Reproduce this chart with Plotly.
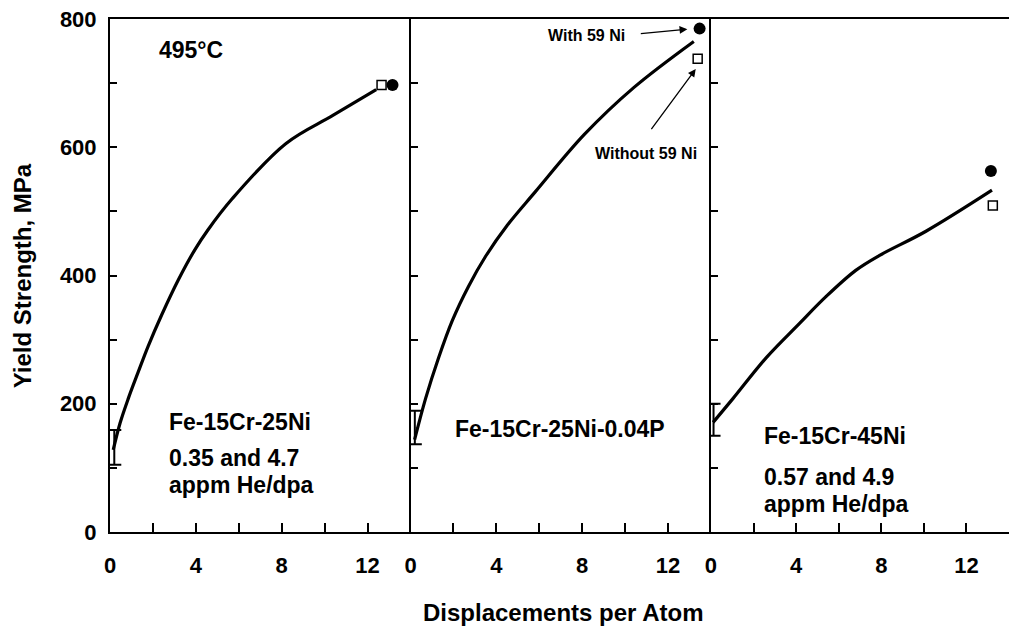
import plotly.graph_objects as go

# ---------------- data ----------------
dpa_p1 = [0.15, 0.47, 0.85, 1.32, 1.78, 2.4, 3.18, 3.95, 4.56, 5.7, 8.2, 10.4, 12.4]
ys_p1 = [128, 170, 208, 250, 290, 338, 393, 440, 471, 520, 606, 650, 690]

dpa_p2 = [0.19, 0.7, 1.3, 1.95, 2.7, 3.5, 4.5, 5.8, 8.1, 10.4, 13.2]
ys_p2 = [144, 208, 271, 330, 383, 430, 478, 530, 620, 693, 765]

dpa_p3 = [0.1, 1.03, 2.6, 4.15, 5.4, 6.8, 7.9, 10.1, 13.2]
ys_p3 = [171, 208, 272, 325, 367, 408, 431, 469, 533]

# unirradiated scatter band (x, low, high) per panel
err_x = [0.2, 0.2, 0.12]
err_lo = [105, 137, 150]
err_hi = [159, 189, 200]

# end points: with 59Ni (filled circle) / without 59Ni (open square)
with_x = [13.16, 13.47, 13.15]
with_y = [697, 785, 563]
without_x = [12.65, 13.38, 13.24]
without_y = [697, 738, 509]

panel_labels = [
    ["Fe-15Cr-25Ni", "0.35 and 4.7", "appm He/dpa"],
    ["Fe-15Cr-25Ni-0.04P"],
    ["Fe-15Cr-45Ni", "0.57 and 4.9", "appm He/dpa"],
]

y_ticks = [0, 100, 200, 300, 400, 500, 600, 700, 800]
y_ticktext = ["0", "", "200", "", "400", "", "600", "", "800"]
x_ticks = [0, 2, 4, 6, 8, 10, 12]
x_ticktext = ["0", "", "4", "", "8", "", "12"]

# ---------------- figure ----------------
FONT = "Liberation Sans, Arial, Helvetica, sans-serif"
fig = go.Figure()

curves = [(dpa_p1, ys_p1), (dpa_p2, ys_p2), (dpa_p3, ys_p3)]
for i, (xs, ys) in enumerate(curves):
    xa = "x" if i == 0 else f"x{i+1}"
    ya = "y" if i == 0 else f"y{i+1}"
    fig.add_trace(go.Scatter(x=xs, y=ys, mode="lines", xaxis=xa, yaxis=ya,
                             line=dict(color="black", width=3.2, shape="spline", smoothing=1.0),
                             showlegend=False, hoverinfo="skip"))
    mid = (err_lo[i] + err_hi[i]) / 2
    fig.add_trace(go.Scatter(x=[err_x[i]], y=[mid], mode="markers", xaxis=xa, yaxis=ya,
                             marker=dict(size=1, color="black"),
                             error_y=dict(type="data", symmetric=False,
                                          array=[err_hi[i] - mid], arrayminus=[mid - err_lo[i]],
                                          color="black", thickness=2, width=7),
                             showlegend=False, hoverinfo="skip"))
    fig.add_trace(go.Scatter(x=[with_x[i]], y=[with_y[i]], mode="markers", xaxis=xa, yaxis=ya,
                             marker=dict(symbol="circle", size=12, color="black"),
                             showlegend=False))
    fig.add_trace(go.Scatter(x=[without_x[i]], y=[without_y[i]], mode="markers", xaxis=xa, yaxis=ya,
                             marker=dict(symbol="square-open", size=9, color="black",
                                         line=dict(width=1.5, color="black")),
                             showlegend=False))

domains = [[0.0, 0.3343], [0.3343, 0.6685], [0.6685, 1.0]]
tickfont = dict(family=FONT, size=22, color="black", weight="bold")
for i in range(3):
    sfx = "" if i == 0 else str(i + 1)
    fig.update_layout(**{
        f"xaxis{sfx}": dict(domain=domains[i], range=[0, 14], anchor=f"y{sfx}",
                            showline=True, linecolor="black", linewidth=2, mirror=True,
                            ticks="inside", ticklen=9, tickwidth=1.5, tickcolor="black",
                            tickvals=x_ticks, ticktext=x_ticktext, tickfont=tickfont,
                            ticklabelstandoff=13, showgrid=False, zeroline=False,
                            fixedrange=True),
        f"yaxis{sfx}": dict(domain=[0, 1], range=[0, 800], anchor=f"x{sfx}",
                            showline=True, linecolor="black", linewidth=2,
                            ticks="inside", ticklen=7, tickwidth=1.5, tickcolor="black",
                            tickvals=y_ticks, ticktext=y_ticktext, tickfont=tickfont,
                            showticklabels=(i == 0), ticklabelstandoff=7,
                            showgrid=False, zeroline=False, fixedrange=True),
    })

annotations = []
txtfont = dict(family=FONT, size=23, color="black", weight="bold")
# panel labels
label_pos = [(2.65, [172, 115, 73]), (2.0, [161]), (2.4, [149, 86, 44])]
for i, lines in enumerate(panel_labels):
    sfx = "" if i == 0 else str(i + 1)
    x0, ypos = label_pos[i]
    for t, yy in zip(lines, ypos):
        annotations.append(dict(x=x0, y=yy, xref=f"x{sfx}", yref=f"y{sfx}", text=t,
                                showarrow=False, xanchor="left", yanchor="middle", font=txtfont))
annotations.append(dict(x=2.2, y=752, xref="x", yref="y", text="495°C", showarrow=False,
                        xanchor="left", yanchor="middle", font=txtfont))
# 59Ni callouts
small = dict(family=FONT, size=16, color="black", weight="bold")
annotations.append(dict(x=6.3, y=774, xref="x2", yref="y2", text="With 59 Ni", showarrow=False,
                        xanchor="left", yanchor="middle", font=small))
annotations.append(dict(x=12.9, y=784, ax=10.66, ay=777, xref="x2", yref="y2", axref="x2", ayref="y2",
                        text="", showarrow=True, arrowhead=2, arrowsize=1.2, arrowwidth=1.3,
                        arrowcolor="black"))
annotations.append(dict(x=8.5, y=590, xref="x2", yref="y2", text="Without 59 Ni", showarrow=False,
                        xanchor="left", yanchor="middle", font=small))
annotations.append(dict(x=13.29, y=722, ax=11.17, ay=626, xref="x2", yref="y2", axref="x2", ayref="y2",
                        text="", showarrow=True, arrowhead=2, arrowsize=1.2, arrowwidth=1.3,
                        arrowcolor="black"))
# axis titles
annotations.append(dict(x=-0.097, y=0.5, xref="paper", yref="paper", text="Yield Strength, MPa",
                        showarrow=False, textangle=-90, xanchor="center", yanchor="middle",
                        font=dict(family=FONT, size=24, color="black", weight="bold")))
annotations.append(dict(x=0.504, y=-0.156, xref="paper", yref="paper", text="Displacements per Atom",
                        showarrow=False, xanchor="center", yanchor="middle",
                        font=dict(family=FONT, size=24, color="black", weight="bold")))

fig.update_layout(width=1009, height=632, margin=dict(l=110, r=0, t=19, b=100),
                  paper_bgcolor="white", plot_bgcolor="white", annotations=annotations,
                  showlegend=False)

fig.write_html("out.html")
